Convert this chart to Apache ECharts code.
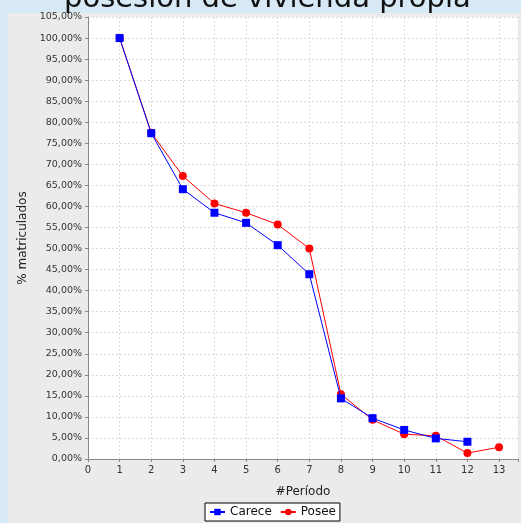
<!DOCTYPE html>
<html><head><meta charset="utf-8">
<script src="https://cdn.jsdelivr.net/npm/echarts@6/dist/echarts.min.js"></script>
<style>html,body{margin:0;padding:0;background:#d6e9f4;overflow:hidden}#c{width:521px;height:523px}</style>
</head><body><div id="c"></div>
<script>
const titleText = 'posesión de vivienda propia';
const periods = [1, 2, 3, 4, 5, 6, 7, 8, 9, 10, 11, 12, 13];
const carece = [100, 77.4, 64.1, 58.5, 56.1, 50.8, 43.9, 14.4, 9.7, 6.9, 4.9, 4.1];
const posee = [100, 77.5, 67.2, 60.7, 58.5, 55.7, 50.0, 15.4, 9.3, 5.9, 5.5, 1.4, 2.8];
const seriesNames = ['Carece', 'Posee'];

const chart = echarts.init(document.getElementById('c'), null, {renderer: 'canvas'});
const font = 'DejaVu Sans';
const pair = (vals) => vals.map((v, i) => [periods[i], v]);

chart.setOption({
  animation: false,
  backgroundColor: '#d6e9f4',
  graphic: [
    {type: 'rect', left: 8, top: 13, shape: {width: 513, height: 510}, style: {fill: '#ebebeb'}, z: -10},
    {type: 'text', left: 64, style: {text: titleText, x: 0, y: 0, font: '29px "DejaVu Sans"', fill: '#111'}, top: -15, z: 10}
  ],
  grid: {left: 88, top: 17, right: 0, bottom: 64, show: true, backgroundColor: '#ffffff', borderWidth: 0},
  legend: {
    data: seriesNames, top: 503, left: 205, itemWidth: 15, itemHeight: 8, itemGap: 8,
    borderColor: '#000', borderWidth: 1, backgroundColor: '#fff', padding: [3, 4],
    textStyle: {fontFamily: font, fontSize: 12, color: '#111'}
  },
  xAxis: {
    type: 'value', min: 0, max: 13.6, interval: 1,
    name: '#Período', nameLocation: 'middle', nameGap: 27,
    nameTextStyle: {fontFamily: font, fontSize: 12, color: '#222'},
    axisLine: {show: true, onZero: false, lineStyle: {color: '#888'}},
    axisTick: {show: true, length: 3, lineStyle: {color: '#888'}},
    axisLabel: {fontFamily: font, fontSize: 10, color: '#333', margin: 6,
      formatter: v => Number.isInteger(v) ? String(v) : ''},
    splitLine: {show: true, lineStyle: {color: '#dcdcdc', type: [2, 2]}}
  },
  yAxis: {
    type: 'value', min: 0, max: 105, interval: 5,
    name: '% matriculados', nameLocation: 'middle', nameGap: 58, nameRotate: 90,
    nameTextStyle: {fontFamily: font, fontSize: 12, color: '#222'},
    axisLine: {show: true, lineStyle: {color: '#888'}},
    axisTick: {show: true, length: 3, lineStyle: {color: '#888'}},
    axisLabel: {fontFamily: font, fontSize: 9.5, color: '#333', margin: 6,
      formatter: v => v.toFixed(2).replace('.', ',') + '%'},
    splitLine: {show: true, lineStyle: {color: '#dcdcdc', type: [2, 2]}}
  },
  series: [
    {name: 'Posee', type: 'line', data: pair(posee), symbol: 'circle', symbolSize: 8,
      itemStyle: {color: '#ff0000'}, lineStyle: {color: '#ff0000', width: 1}, z: 2},
    {name: 'Carece', type: 'line', data: pair(carece), symbol: 'rect', symbolSize: 8,
      itemStyle: {color: '#0000ff'}, lineStyle: {color: '#0000ff', width: 1}, z: 3}
  ]
});
</script></body></html>
